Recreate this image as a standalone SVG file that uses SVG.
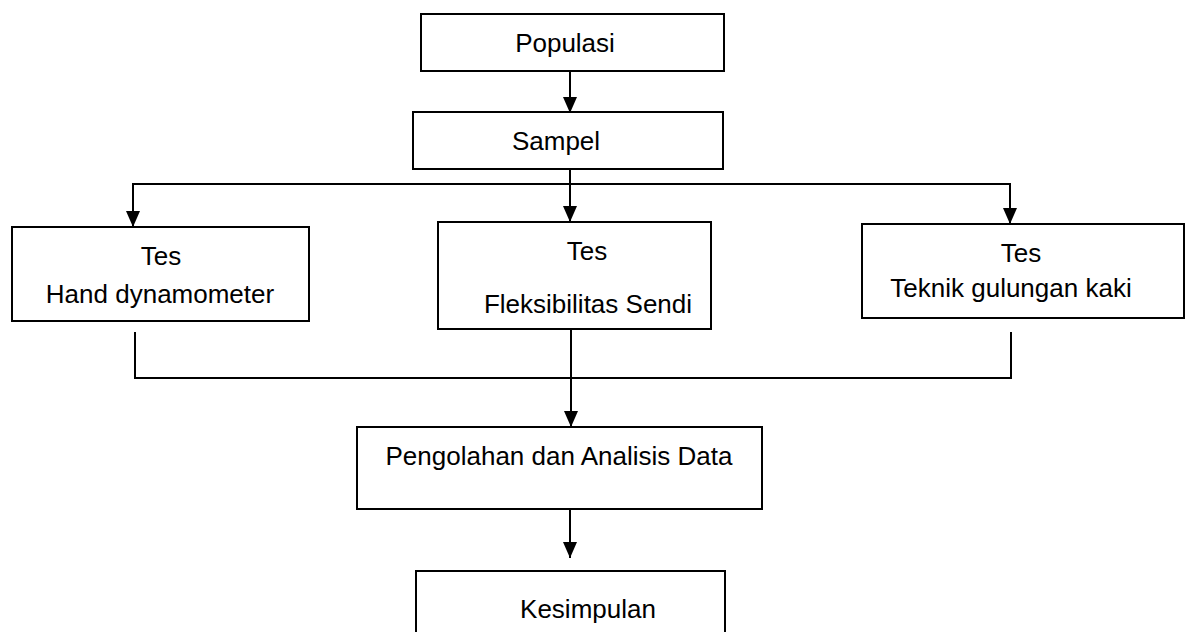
<svg xmlns="http://www.w3.org/2000/svg" width="1191" height="632" viewBox="0 0 1191 632">
<style>
.box{fill:#fff;stroke:#000;stroke-width:2}
.t{font-family:"Liberation Sans",Arial,sans-serif;font-size:26px;fill:#000;text-anchor:middle}
.c{fill:none;stroke:#000;stroke-width:2}
</style>
<defs>
<marker id="ah" markerUnits="userSpaceOnUse" markerWidth="16" markerHeight="16" viewBox="0 0 16 16" refX="16" refY="8" orient="auto">
<path d="M0,1 L16,8 L0,15 Z" fill="#000"/>
</marker>
</defs>
<rect width="1191" height="632" fill="#fff"/>
<g id="connectors">
<line class="c" x1="570" y1="71" x2="570" y2="113" marker-end="url(#ah)"/>
<line class="c" x1="570" y1="169" x2="570" y2="222" marker-end="url(#ah)"/>
<polyline class="c" points="133,184 1010,184"/>
<line class="c" x1="133" y1="183" x2="133" y2="227" marker-end="url(#ah)"/>
<line class="c" x1="1010" y1="183" x2="1010" y2="224" marker-end="url(#ah)"/>
<polyline class="c" points="135,332 135,378 1011,378 1011,332"/>
<line class="c" x1="571" y1="329" x2="571" y2="427" marker-end="url(#ah)"/>
<line class="c" x1="570" y1="509" x2="570" y2="558" marker-end="url(#ah)"/>
</g>
<g id="populasi">
<rect class="box" x="421" y="14" width="303" height="57"/>
<text class="t" x="565" y="52">Populasi</text>
</g>
<g id="sampel">
<rect class="box" x="413" y="112" width="310" height="57"/>
<text class="t" x="556" y="150">Sampel</text>
</g>
<g id="tes-hand">
<rect class="box" x="12" y="227" width="297" height="94"/>
<text class="t" x="161" y="265">Tes</text>
<text class="t" x="160" y="303">Hand dynamometer</text>
</g>
<g id="tes-fleksibilitas">
<rect class="box" x="438" y="222" width="273" height="107"/>
<text class="t" x="587" y="260">Tes</text>
<text class="t" x="588" y="313">Fleksibilitas Sendi</text>
</g>
<g id="tes-teknik">
<rect class="box" x="862" y="224" width="322" height="94"/>
<text class="t" x="1021" y="262">Tes</text>
<text class="t" x="1011" y="297">Teknik gulungan kaki</text>
</g>
<g id="pengolahan">
<rect class="box" x="357" y="427" width="405" height="82"/>
<text class="t" x="559" y="465">Pengolahan dan Analisis Data</text>
</g>
<g id="kesimpulan">
<rect class="box" x="416" y="571" width="309" height="80"/>
<text class="t" x="588" y="618">Kesimpulan</text>
</g>
</svg>
